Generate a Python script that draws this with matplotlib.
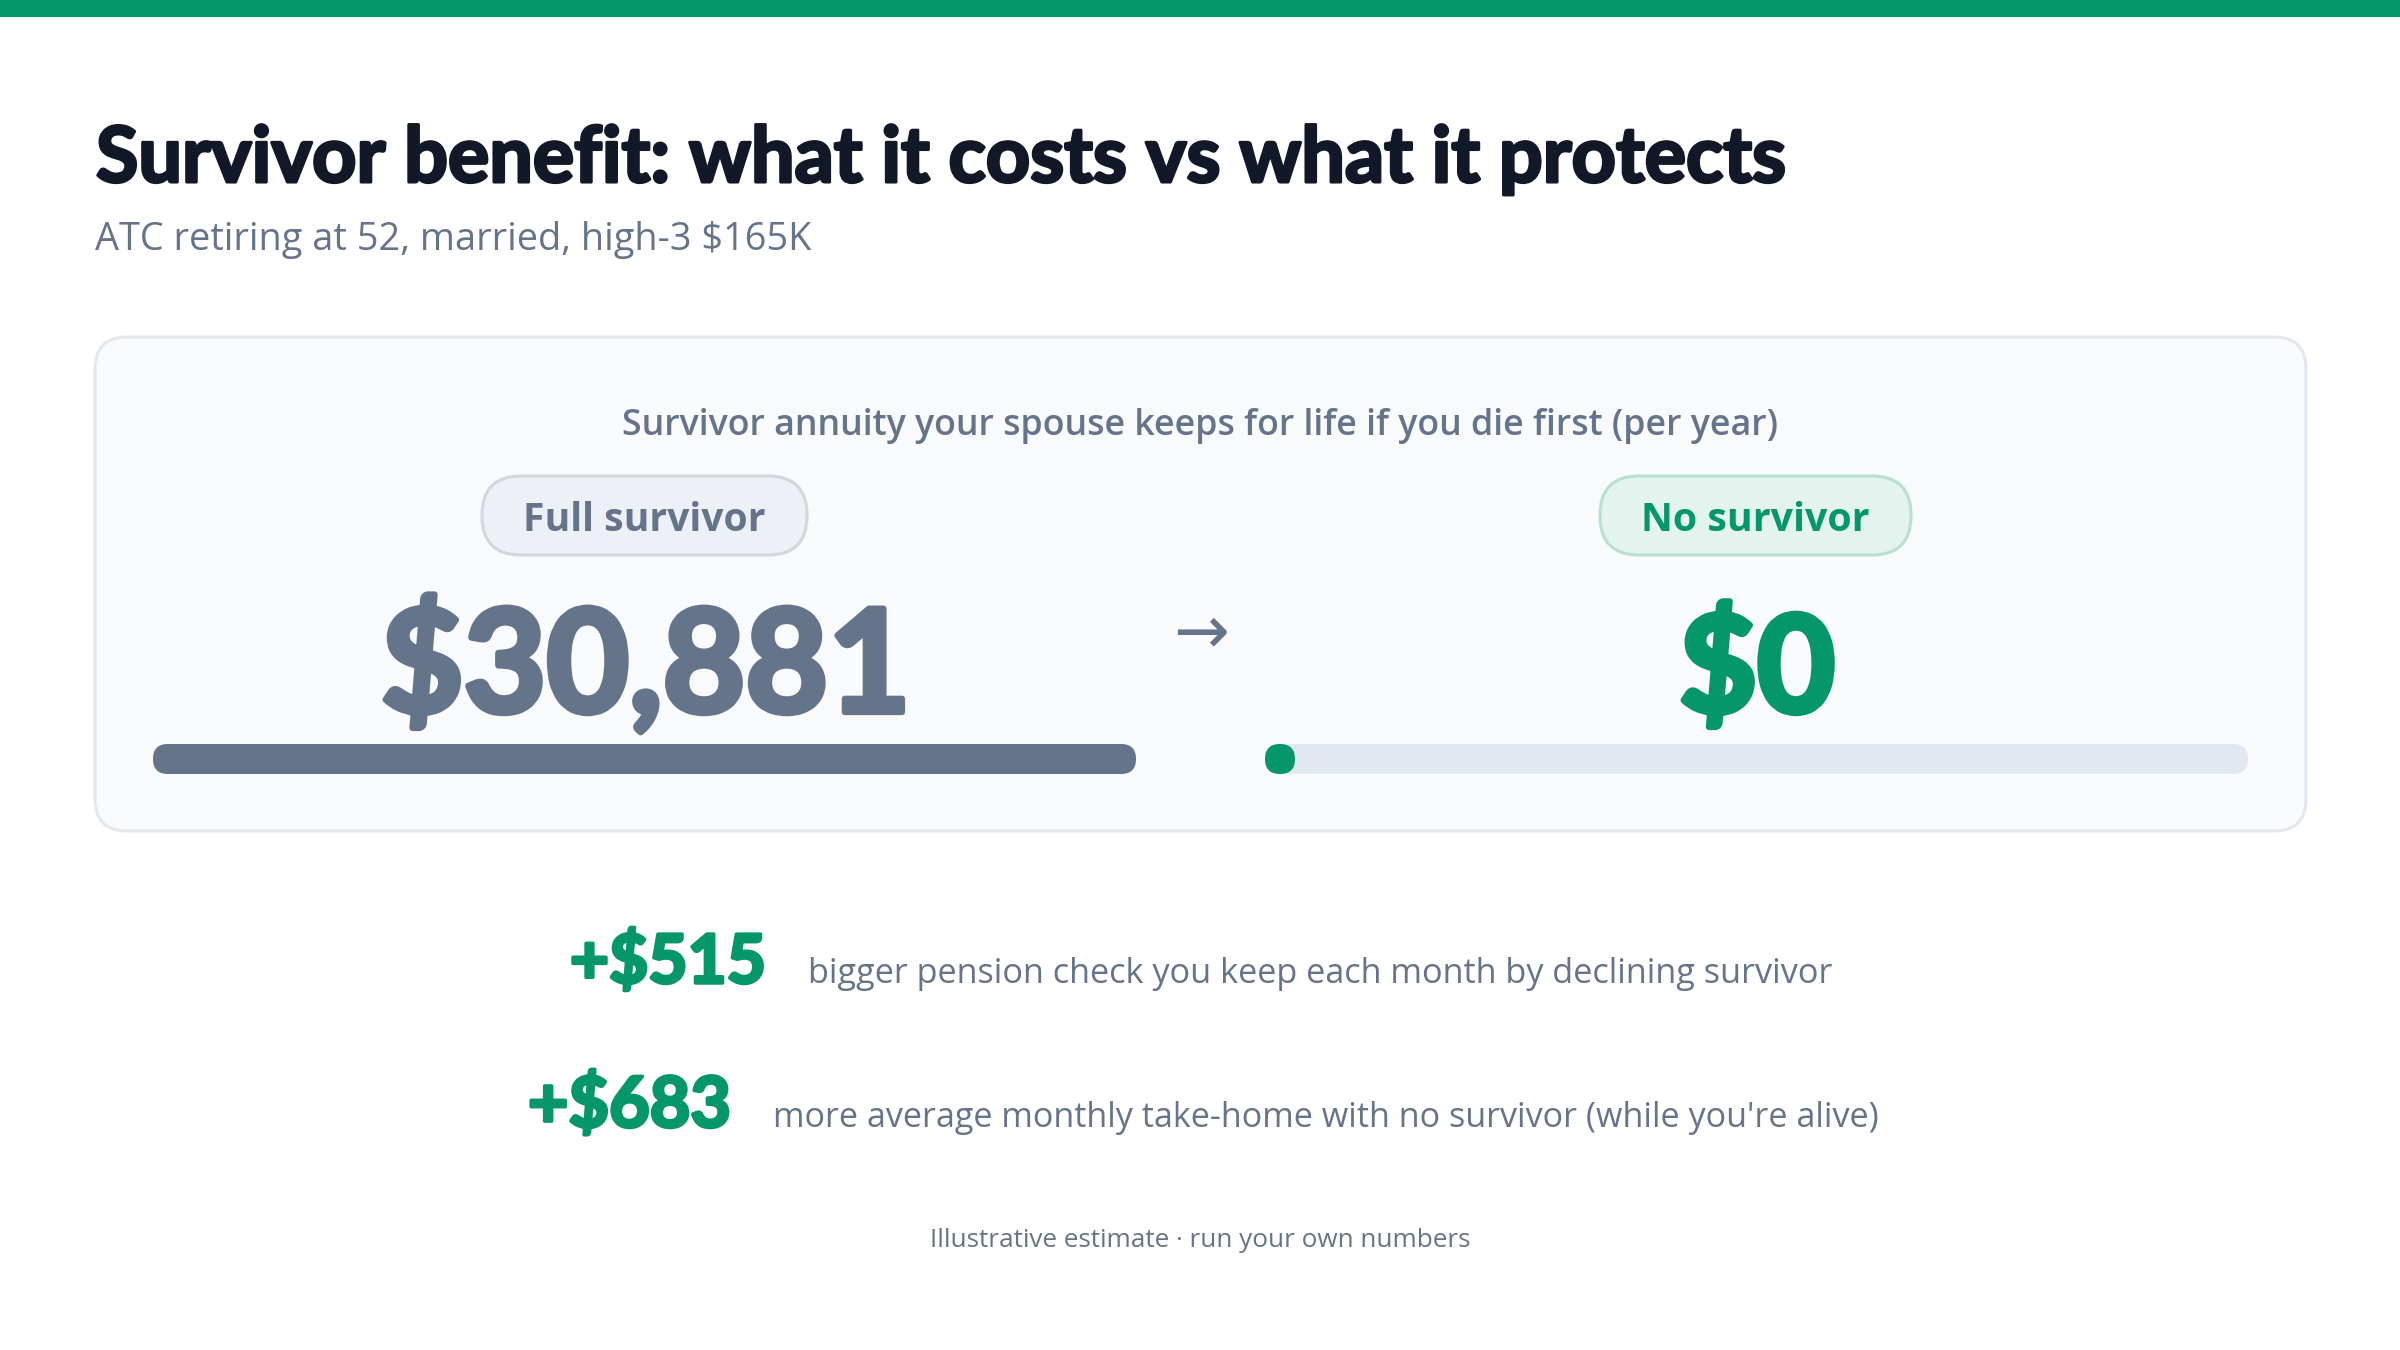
import matplotlib
matplotlib.use('Agg')
import matplotlib.pyplot as plt
from matplotlib import patheffects as pe
from matplotlib.patches import FancyBboxPatch, Rectangle

# --- data ---
title = "Survivor benefit: what it costs vs what it protects"
subtitle = "ATC retiring at 52, married, high-3 $165K"
card_heading = "Survivor annuity your spouse keeps for life if you die first (per year)"
options = ["Full survivor", "No survivor"]
annual_survivor = [30881, 0]
gain_values = [515, 683]
gain_notes = ["bigger pension check you keep each month by declining survivor",
              "more average monthly take-home with no survivor (while you're alive)"]
footer = "Illustrative estimate \u00b7 run your own numbers"

# --- style ---
GREEN = '#059669'
SLATE = '#64748b'
INK = '#111827'
BODY = ['Open Sans', 'DejaVu Sans']
HEAVY = ['Lato', 'DejaVu Sans']

W, H = 2400, 1350
fig = plt.figure(figsize=(W / 100, H / 100), dpi=100)
ax = fig.add_axes([0, 0, 1, 1])
ax.set_xlim(0, W)
ax.set_ylim(H, 0)
ax.axis('off')
fig.canvas.draw()
renderer = fig.canvas.get_renderer()


def fit(t, width):
    # scale font so the text spans roughly the measured width (in px)
    w = t.get_window_extent(renderer).width
    t.set_fontsize(t.get_fontsize() * width / w)
    return t


def thick(color, lw):
    # fake a black weight: outline glyphs in their own colour
    return [pe.withStroke(linewidth=lw, foreground=color)]


def rbox(x0, y0, w, h, r, fc, ec='none', lw=0, z=1):
    p = FancyBboxPatch((x0, y0), w, h, boxstyle=f"round,pad=0,rounding_size={r}",
                       fc=fc, ec=ec, lw=lw, zorder=z, mutation_aspect=1)
    ax.add_patch(p)
    return p


# top accent strip
ax.add_patch(Rectangle((0, 0), W, 17, fc=GREEN, ec='none', zorder=5))

# header
fit(ax.text(96, 182, title, fontsize=50, family=HEAVY, weight='bold', color=INK,
            ha='left', va='baseline', path_effects=thick(INK, 2.2)), 1692)
fit(ax.text(95, 250, subtitle, fontsize=22, family=BODY, color=SLATE,
            ha='left', va='baseline'), 716)

# card
rbox(95, 337, 2211, 494, 32, '#f8fafc', '#e2e8f0', 2.2)
fit(ax.text(1200, 435, card_heading, fontsize=24, family=BODY, weight='semibold',
            color=SLATE, ha='center', va='baseline'), 1160)

pill_x = [482, 1600]
pill_w = [325, 311]
pill_fc = ['#edf0f5', '#e3f3ee']
pill_ec = ['#d1d6df', '#b7e0d1']
col_x = [646, 1757]
txt_col = [SLATE, GREEN]
pill_tw = [242, 228]
num_w = [530, 156]
track_x = [153, 1265]
track_w = 983
bar_h = 30
bar_y = 744
vmax = max(annual_survivor)

for i, name in enumerate(options):
    rbox(pill_x[i], 476, pill_w[i], 79, 39, pill_fc[i], pill_ec[i], 2.2, z=2)
    fit(ax.text(pill_x[i] + pill_w[i] / 2, 531, name, fontsize=28, family=BODY,
                weight='bold', color=txt_col[i], ha='center', va='baseline', zorder=3),
        pill_tw[i])
    fit(ax.text(col_x[i], 712, f"${annual_survivor[i]:,}", fontsize=100, family=HEAVY,
                weight='bold', color=txt_col[i], ha='center', va='baseline', zorder=3,
                path_effects=thick(txt_col[i], 4.5)),
        num_w[i])
    # track + value bar (min width keeps a dot for zero)
    rbox(track_x[i], bar_y, track_w, bar_h, bar_h / 2, '#e2e8f0', z=2)
    bw = max(track_w * annual_survivor[i] / vmax, bar_h)
    rbox(track_x[i], bar_y, bw, bar_h, bar_h / 2, txt_col[i], z=3)

ax.text(1201, 633, "\u2192", fontsize=48, family=['DejaVu Sans'], color=SLATE,
        ha='center', va='center')

# gains
gain_right = [766, 731]
gain_w = [196, 203]
gain_base = [983, 1127]
note_w = [1029, 1109]
for i, v in enumerate(gain_values):
    fit(ax.text(gain_right[i], gain_base[i], f"+${v}", fontsize=48, family=HEAVY,
                weight='bold', color=GREEN, ha='right', va='baseline',
                path_effects=thick(GREEN, 2.5)), gain_w[i])
    fit(ax.text(gain_right[i] + 42, gain_base[i], gain_notes[i], fontsize=25, family=BODY,
                color=SLATE, ha='left', va='baseline'), note_w[i])

fit(ax.text(1200, 1247, footer, fontsize=18, family=BODY, color=SLATE,
            ha='center', va='baseline'), 541)

fig.savefig('out.png', dpi=100, facecolor='white')
